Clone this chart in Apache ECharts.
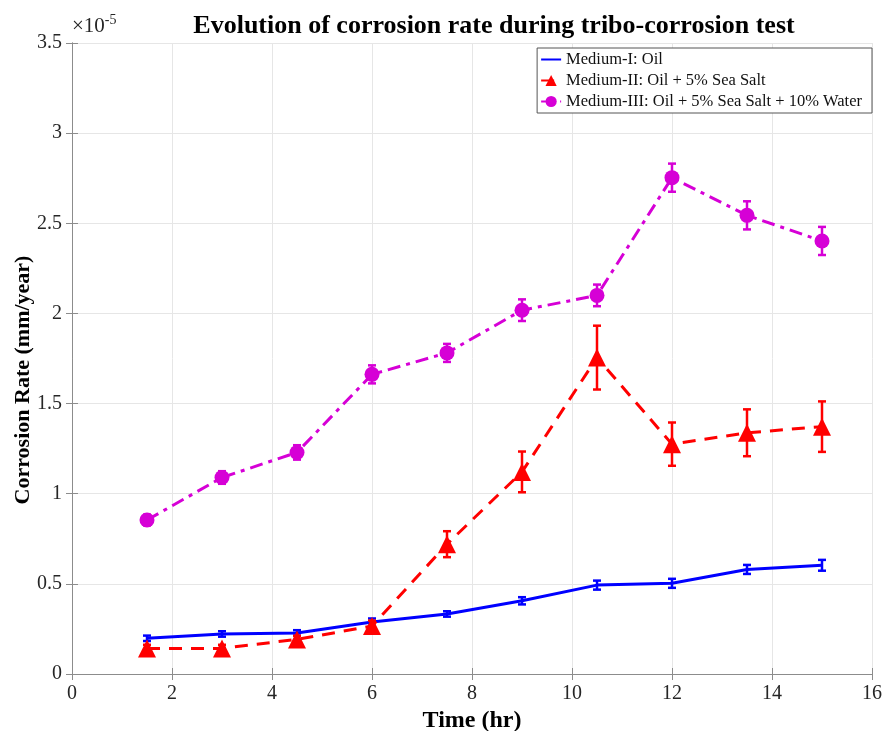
<!DOCTYPE html>
<html>
<head>
<meta charset="utf-8">
<script src="https://cdn.jsdelivr.net/npm/echarts@6/dist/echarts.min.js"></script>
<style>
  html, body { margin: 0; padding: 0; background: #fff; }
  #chart { width: 885px; height: 731px; }
</style>
</head>
<body>
<div id="chart"></div>
<script>
// values in units of 1e-5 mm/year
const timeHr = [1.5, 3, 4.5, 6, 7.5, 9, 10.5, 12, 13.5, 15]
const oilRate = [0.198, 0.222, 0.228, 0.288, 0.333, 0.406, 0.493, 0.503, 0.58, 0.603]
const oilErr = [0.015, 0.015, 0.015, 0.02, 0.015, 0.02, 0.025, 0.025, 0.025, 0.03]
const saltRate = [0.142, 0.142, 0.192, 0.266, 0.72, 1.121, 1.755, 1.275, 1.338, 1.372]
const saltErr = [0.02, 0.02, 0.02, 0.03, 0.072, 0.113, 0.177, 0.12, 0.13, 0.14]
const waterRate = [0.854, 1.09, 1.229, 1.662, 1.781, 2.018, 2.1, 2.753, 2.544, 2.402]
const waterErr = [0.03, 0.035, 0.04, 0.05, 0.05, 0.06, 0.06, 0.078, 0.078, 0.078]
const seriesNames = ['Medium-I: Oil', 'Medium-II: Oil + 5% Sea Salt', 'Medium-III: Oil + 5% Sea Salt + 10% Water']

const serif = '"Liberation Serif", "Times New Roman", serif'
const axisGray = '#8c8c8c'
const labelColor = '#262626'

const pairs = (ys) => timeHr.map((t, i) => [t, ys[i]])
const errData = (ys, es) => timeHr.map((t, i) => [t, ys[i], es[i]])

const errorBars = (color) => (params, api) => {
  const x = api.value(0), y = api.value(1), e = api.value(2)
  const top = api.coord([x, y + e])
  const bot = api.coord([x, y - e])
  const w = 4
  const st = { stroke: color, lineWidth: 2.5 }
  return {
    type: 'group',
    children: [
      { type: 'line', shape: { x1: top[0], y1: top[1], x2: bot[0], y2: bot[1] }, style: st },
      { type: 'line', shape: { x1: top[0] - w, y1: top[1], x2: top[0] + w, y2: top[1] }, style: st },
      { type: 'line', shape: { x1: bot[0] - w, y1: bot[1], x2: bot[0] + w, y2: bot[1] }, style: st }
    ]
  }
}

const chart = echarts.init(document.getElementById('chart'))

const tickStyle = { inside: true, length: 6, lineStyle: { color: axisGray } }
const lineAxis = { lineStyle: { color: axisGray, width: 1 } }

const option = {
  animation: false,
  backgroundColor: '#fff',
  title: {
    text: 'Evolution of corrosion rate during tribo-corrosion test',
    left: 489,
    textAlign: 'center',
    top: 8,
    textStyle: { fontFamily: serif, fontSize: 26, fontWeight: 'bold', color: '#000' }
  },
  graphic: [{
    type: 'text',
    left: 72,
    top: 13,
    style: {
      text: '{a|×10}{b|-5}',
      rich: {
        a: { fontFamily: serif, fontSize: 21, fill: labelColor },
        b: { fontFamily: serif, fontSize: 14, fill: labelColor, verticalAlign: 'top', padding: [0, 0, 12, 0] }
      }
    }
  }, {
    type: 'text',
    x: 23,
    y: 380,
    rotation: Math.PI / 2,
    style: {
      text: 'Corrosion Rate (mm/year)',
      fontFamily: serif,
      fontSize: 22,
      fontWeight: 'bold',
      fill: '#000',
      align: 'center',
      verticalAlign: 'middle'
    }
  }],
  legend: {
    data: [
      { name: seriesNames[0], itemStyle: { opacity: 0 } },
      { name: seriesNames[1] },
      { name: seriesNames[2] }
    ],
    orient: 'vertical',
    right: 13,
    top: 48,
    itemWidth: 20,
    itemHeight: 14,
    itemGap: 4,
    padding: [3, 10, 3, 3],
    borderColor: '#555',
    borderWidth: 1,
    backgroundColor: '#fff',
    textStyle: { fontFamily: serif, fontSize: 16.5, color: '#111' }
  },
  grid: { left: 72, right: 13, top: 43, bottom: 57, outerBoundsMode: 'none' },
  xAxis: [{
    type: 'value',
    min: 0, max: 16, interval: 2,
    name: 'Time (hr)',
    nameLocation: 'middle',
    nameGap: 34,
    nameTextStyle: { fontFamily: serif, fontSize: 24, fontWeight: 'bold', color: '#000' },
    axisLine: lineAxis,
    axisTick: tickStyle,
    axisLabel: { fontFamily: serif, fontSize: 20, color: labelColor, margin: 10 },
    splitLine: { show: true, lineStyle: { color: '#e6e6e6' } }
  }, {
    type: 'value',
    position: 'top',
    min: 0, max: 16, interval: 2,
    axisLine: lineAxis,
    axisTick: tickStyle,
    axisLabel: { show: false },
    splitLine: { show: false }
  }],
  yAxis: [{
    type: 'value',
    min: 0, max: 3.5, interval: 0.5,
    axisLine: { show: true, ...lineAxis },
    axisTick: { show: true, ...tickStyle },
    axisLabel: { fontFamily: serif, fontSize: 20, color: labelColor, margin: 10 },
    splitLine: { show: true, lineStyle: { color: '#e6e6e6' } }
  }, {
    type: 'value',
    position: 'right',
    min: 0, max: 3.5, interval: 0.5,
    axisLine: { show: true, ...lineAxis },
    axisTick: { show: true, ...tickStyle },
    axisLabel: { show: false },
    splitLine: { show: false }
  }],
  series: [
    {
      name: seriesNames[0],
      type: 'line',
      data: pairs(oilRate),
      symbol: 'none',
      color: '#0000ff',
      lineStyle: { color: '#0000ff', width: 3 },
      z: 3
    },
    {
      type: 'custom',
      data: errData(oilRate, oilErr),
      renderItem: errorBars('#0000ff'),
      z: 3
    },
    {
      name: seriesNames[1],
      type: 'line',
      data: pairs(saltRate),
      symbol: 'triangle',
      symbolSize: 18,
      color: '#ff0000',
      lineStyle: { color: '#ff0000', width: 3, type: [13, 9] },
      itemStyle: { color: '#ff0000' },
      z: 4
    },
    {
      type: 'custom',
      data: errData(saltRate, saltErr),
      renderItem: errorBars('#ff0000'),
      z: 4
    },
    {
      name: seriesNames[2],
      type: 'line',
      data: pairs(waterRate),
      symbol: 'circle',
      symbolSize: 15,
      color: '#d600d6',
      lineStyle: { color: '#d600d6', width: 3, type: [13, 6, 4, 6] },
      itemStyle: { color: '#d600d6' },
      z: 5
    },
    {
      type: 'custom',
      data: errData(waterRate, waterErr),
      renderItem: errorBars('#d600d6'),
      z: 5
    }
  ]
}

chart.setOption(option)
window.addEventListener('resize', () => chart.resize())
</script>
</body>
</html>
